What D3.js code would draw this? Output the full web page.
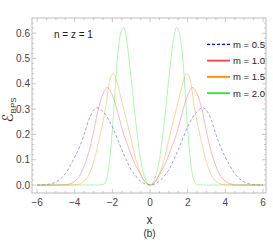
<!DOCTYPE html>
<html>
<head>
<meta charset="utf-8">
<script src="https://cdn.jsdelivr.net/npm/d3@7"></script>
<style>
body { margin: 0; background: #fff; }
text { font-family: "Liberation Sans", Arial, sans-serif; }
</style>
</head>
<body>
<div id="container"></div>
<script>
// values
var xs05 = [-6, -5.75, -5.5, -5.25, -5, -4.75, -4.5, -4.25, -4, -3.75, -3.5, -3.25, -3, -2.8, -2.5, -2.25, -2, -1.75, -1.5, -1.25, -1, -0.75, -0.5, -0.25, 0,
            0.25, 0.5, 0.75, 1, 1.25, 1.5, 1.75, 2, 2.25, 2.5, 2.8, 3, 3.25, 3.5, 3.75, 4, 4.25, 4.5, 4.75, 5, 5.25, 5.5, 5.75, 6];
var ys05 = [0, 0, 0.002, 0.005, 0.012, 0.025, 0.045, 0.075, 0.11, 0.15, 0.2, 0.258, 0.295, 0.305, 0.29, 0.265, 0.23, 0.185, 0.14, 0.098, 0.06, 0.035, 0.015, 0.004, 0,
            0.004, 0.015, 0.035, 0.06, 0.098, 0.14, 0.185, 0.23, 0.265, 0.29, 0.305, 0.295, 0.258, 0.2, 0.15, 0.11, 0.075, 0.045, 0.025, 0.012, 0.005, 0.002, 0, 0];

var xs10 = [-6, -5, -4.5, -4.25, -4, -3.75, -3.5, -3.25, -3, -2.75, -2.5, -2.25, -2, -1.8, -1.6, -1.4, -1.2, -0.9, -0.6, -0.3, 0,
            0.3, 0.6, 0.9, 1.2, 1.4, 1.6, 1.8, 2, 2.25, 2.5, 2.75, 3, 3.25, 3.5, 3.75, 4, 4.25, 4.5, 5, 6];
var ys10 = [0, 0, 0.001, 0.005, 0.015, 0.035, 0.075, 0.13, 0.21, 0.3, 0.36, 0.385, 0.355, 0.31, 0.255, 0.2, 0.16, 0.1, 0.055, 0.015, 0,
            0.015, 0.055, 0.1, 0.16, 0.2, 0.255, 0.31, 0.355, 0.385, 0.36, 0.3, 0.21, 0.13, 0.075, 0.035, 0.015, 0.005, 0.001, 0, 0];

var xs15 = [-6, -4.5, -4, -3.75, -3.5, -3.25, -3, -2.75, -2.5, -2.35, -2.15, -1.95, -1.75, -1.5, -1.25, -1, -0.75, -0.5, -0.3, 0,
            0.3, 0.5, 0.75, 1, 1.25, 1.5, 1.75, 1.95, 2.15, 2.35, 2.5, 2.75, 3, 3.25, 3.5, 3.75, 4, 4.5, 6];
var ys15 = [0, 0, 0.001, 0.004, 0.015, 0.04, 0.09, 0.165, 0.25, 0.31, 0.41, 0.44, 0.405, 0.33, 0.255, 0.18, 0.1, 0.045, 0.018, 0,
            0.018, 0.045, 0.1, 0.18, 0.255, 0.33, 0.405, 0.44, 0.41, 0.31, 0.25, 0.165, 0.09, 0.04, 0.015, 0.004, 0.001, 0, 0];

var xs20 = [-6, -2.8, -2.6, -2.5, -2.4, -2.3, -2.2, -2.1, -2, -1.9, -1.8, -1.7, -1.6, -1.5, -1.4, -1.3, -1.2, -1, -0.75, -0.5, -0.25, 0,
            0.25, 0.5, 0.75, 1, 1.2, 1.3, 1.4, 1.5, 1.6, 1.7, 1.8, 1.9, 2, 2.1, 2.2, 2.3, 2.4, 2.5, 2.6, 2.8, 6];
var ys20 = [0, 0, 0.001, 0.002, 0.008, 0.025, 0.065, 0.13, 0.22, 0.33, 0.44, 0.53, 0.585, 0.615, 0.622, 0.6, 0.55, 0.42, 0.245, 0.1, 0.025, 0,
            0.025, 0.1, 0.245, 0.42, 0.55, 0.6, 0.622, 0.615, 0.585, 0.53, 0.44, 0.33, 0.22, 0.13, 0.065, 0.025, 0.008, 0.002, 0.001, 0, 0];

var labels = ["m = 0.5", "m = 1.0", "m = 1.5", "m = 2.0"];
var colors = ["#0000ff", "#ff4040", "#ff8c00", "#22ee22"];
var xTicks = [-6, -4, -2, 0, 2, 4, 6];
var yTicks = [0, 0.1, 0.2, 0.3, 0.4, 0.5, 0.6];

var series = [[xs05, ys05], [xs10, ys10], [xs15, ys15], [xs20, ys20]];

var svg = d3.select("#container").append("svg")
            .attr("width", 273).attr("height", 245);

var x = d3.scaleLinear().domain([-6.27, 6.16]).range([32, 266]);
var y = d3.scaleLinear().domain([-0.0316, 0.66]).range([193, 18]);

var frameColor = "#bbbbbb";

// frame
svg.append("rect").attr("x", 32).attr("y", 18).attr("width", 234).attr("height", 175)
   .attr("fill", "none").attr("stroke", frameColor).attr("stroke-width", 1);

// ticks (inward, on all four sides)
var ticks = svg.append("g").attr("stroke", frameColor).attr("stroke-width", 0.8);
d3.range(-6, 6.01, 0.5).forEach(function(t){
    var major = Math.abs(t % 2) < 1e-9;
    var len = major ? 4 : 2;
    ticks.append("line").attr("x1", x(t)).attr("x2", x(t)).attr("y1", 193).attr("y2", 193 - len);
    ticks.append("line").attr("x1", x(t)).attr("x2", x(t)).attr("y1", 18).attr("y2", 18 + len);
});
d3.range(0, 0.6401, 0.02).forEach(function(t){
    var major = Math.abs(Math.round(t * 50) % 5) === 0;
    var len = major ? 4 : 2;
    ticks.append("line").attr("x1", 32).attr("x2", 32 + len).attr("y1", y(t)).attr("y2", y(t));
    ticks.append("line").attr("x1", 266).attr("x2", 266 - len).attr("y1", y(t)).attr("y2", y(t));
});

// tick labels
svg.append("g").selectAll("text").data(xTicks).enter().append("text")
   .attr("x", function(d){return x(d);}).attr("y", 206)
   .attr("text-anchor", "middle").attr("font-size", 10).attr("fill", "#444")
   .text(function(d){return d < 0 ? "\u2212" + (-d) : d;});
svg.append("g").selectAll("text").data(yTicks).enter().append("text")
   .attr("x", 30).attr("y", function(d){return y(d) + 3.5;})
   .attr("text-anchor", "end").attr("font-size", 10).attr("fill", "#444")
   .text(function(d){return d.toFixed(1);});

// curves
var line = d3.line().x(function(d){return x(d[0]);}).y(function(d){return y(d[1]);})
             .curve(d3.curveMonotoneX);
svg.append("g").selectAll("path").data(series).enter().append("path")
   .attr("d", function(s){ return line(s[0].map(function(v, i){ return [v, s[1][i]]; })); })
   .attr("fill", "none")
   .attr("stroke", function(d, i){return colors[i];})
   .attr("stroke-opacity", 0.38)
   .attr("stroke-width", 1)
   .attr("stroke-dasharray", function(d, i){return i === 0 ? "3,2" : null;});

// legend
var legend = svg.append("g").selectAll("g").data(labels).enter().append("g")
   .attr("transform", function(d, i){return "translate(0," + (44.3 + i * 16.3) + ")";});
legend.append("line").attr("x1", 207).attr("x2", 230).attr("y1", 0).attr("y2", 0)
   .attr("stroke", function(d, i){return colors[i];})
   .attr("stroke-width", function(d, i){return i === 0 ? 1.2 : 1.8;})
   .attr("stroke-dasharray", function(d, i){return i === 0 ? "3,2" : null;});
legend.append("text").attr("x", 233).attr("y", 3.5).attr("font-size", 9.5).attr("fill", "#222")
   .text(function(d){return d;});

// annotation
svg.append("text").attr("x", 54).attr("y", 37.5).attr("font-size", 10).attr("fill", "#222")
   .text("n = z = 1");

// axis labels
svg.append("text").attr("x", 149.5).attr("y", 224).attr("text-anchor", "middle")
   .attr("font-size", 12).attr("fill", "#333").text("x");
svg.append("text").attr("x", 149.5).attr("y", 237).attr("text-anchor", "middle")
   .attr("font-size", 10).attr("fill", "#333").text("(b)");

var ylab = svg.append("text").attr("transform", "translate(13,110) rotate(-90)")
   .attr("text-anchor", "middle").attr("fill", "#333");
ylab.append("tspan").attr("font-size", 15).attr("font-family", "DejaVu Sans").text("\u2130");
ylab.append("tspan").attr("font-size", 8).attr("dy", 3).text("BPS");
</script>
</body>
</html>
